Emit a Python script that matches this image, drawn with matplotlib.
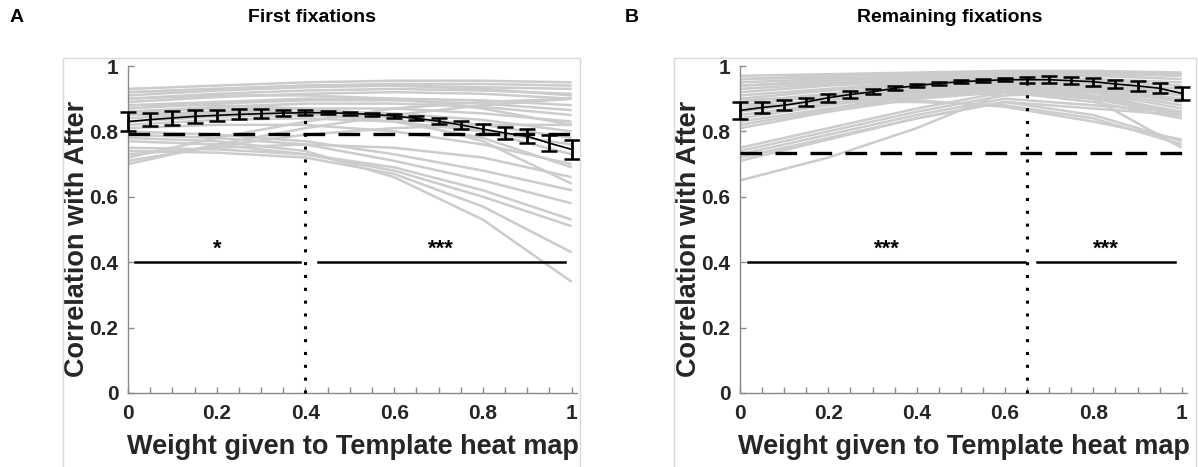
import matplotlib
matplotlib.use('Agg')
import matplotlib.pyplot as plt
from matplotlib.patches import Rectangle
from matplotlib.ticker import MultipleLocator

plt.rcParams['font.family'] = ['Liberation Sans', 'DejaVu Sans']
plt.rcParams['font.weight'] = 'bold'

# weights at which the group mean was computed
weights = [0.0, 0.05, 0.1, 0.15, 0.2, 0.25, 0.3, 0.35, 0.4, 0.45, 0.5,
           0.55, 0.6, 0.65, 0.7, 0.75, 0.8, 0.85, 0.9, 0.95, 1.0]
subj_x = [0.0, 0.2, 0.4, 0.6, 0.8, 1.0]

# ---- A: first fixations ----
first_mean = [0.830, 0.836, 0.841, 0.846, 0.849, 0.852, 0.854, 0.856, 0.857, 0.857, 0.855,
              0.852, 0.847, 0.840, 0.831, 0.820, 0.807, 0.795, 0.785, 0.764, 0.745]
first_err = [0.028, 0.021, 0.020, 0.019, 0.017, 0.015, 0.013, 0.010, 0.007, 0.005, 0.004,
             0.004, 0.005, 0.006, 0.009, 0.012, 0.015, 0.018, 0.021, 0.024, 0.028]
first_subjects = [
    [0.93, 0.94, 0.95, 0.955, 0.955, 0.95],
    [0.92, 0.93, 0.94, 0.945, 0.945, 0.94],
    [0.91, 0.925, 0.935, 0.94, 0.935, 0.93],
    [0.90, 0.915, 0.925, 0.93, 0.925, 0.915],
    [0.89, 0.905, 0.915, 0.92, 0.915, 0.90],
    [0.88, 0.89, 0.90, 0.90, 0.895, 0.88],
    [0.87, 0.885, 0.895, 0.895, 0.885, 0.865],
    [0.86, 0.875, 0.885, 0.885, 0.875, 0.85],
    [0.85, 0.86, 0.87, 0.87, 0.855, 0.83],
    [0.84, 0.855, 0.86, 0.855, 0.835, 0.80],
    [0.83, 0.845, 0.85, 0.845, 0.82, 0.78],
    [0.82, 0.835, 0.84, 0.83, 0.80, 0.76],
    [0.81, 0.82, 0.82, 0.80, 0.76, 0.70],
    [0.70, 0.76, 0.81, 0.85, 0.88, 0.90],
    [0.72, 0.78, 0.83, 0.87, 0.89, 0.90],
    [0.71, 0.755, 0.79, 0.81, 0.82, 0.82],
    [0.73, 0.75, 0.76, 0.75, 0.72, 0.66],
    [0.80, 0.79, 0.77, 0.73, 0.68, 0.62],
    [0.79, 0.78, 0.76, 0.71, 0.65, 0.58],
    [0.78, 0.77, 0.74, 0.66, 0.53, 0.34],
    [0.77, 0.76, 0.73, 0.68, 0.60, 0.51],
    [0.75, 0.745, 0.73, 0.69, 0.62, 0.53],
    [0.74, 0.735, 0.72, 0.67, 0.57, 0.43],
    [0.86, 0.87, 0.87, 0.85, 0.80, 0.73],
    [0.88, 0.88, 0.87, 0.84, 0.77, 0.64],
    [0.85, 0.86, 0.855, 0.83, 0.78, 0.69],
    [0.90, 0.91, 0.91, 0.90, 0.87, 0.82],
    [0.92, 0.93, 0.94, 0.94, 0.93, 0.91],
]
first_baseline = 0.792
first_best = 0.4
first_sig = [(0.016, 0.387, '*'), (0.428, 0.984, '***')]

# ---- B: remaining fixations ----
remain_mean = [0.864, 0.873, 0.880, 0.890, 0.903, 0.913, 0.921, 0.932, 0.940, 0.947, 0.952,
               0.955, 0.958, 0.958, 0.958, 0.955, 0.952, 0.945, 0.939, 0.932, 0.916]
remain_err = [0.026, 0.018, 0.015, 0.013, 0.012, 0.010, 0.008, 0.006, 0.005, 0.004, 0.004,
              0.004, 0.005, 0.009, 0.010, 0.011, 0.012, 0.013, 0.015, 0.016, 0.019]
remain_subjects = [
    [0.97, 0.975, 0.98, 0.985, 0.985, 0.98],
    [0.96, 0.97, 0.975, 0.98, 0.98, 0.975],
    [0.95, 0.96, 0.97, 0.975, 0.975, 0.97],
    [0.94, 0.955, 0.965, 0.97, 0.97, 0.96],
    [0.93, 0.945, 0.96, 0.965, 0.96, 0.95],
    [0.92, 0.94, 0.955, 0.96, 0.955, 0.94],
    [0.91, 0.93, 0.95, 0.955, 0.95, 0.93],
    [0.90, 0.925, 0.945, 0.95, 0.945, 0.92],
    [0.89, 0.915, 0.94, 0.95, 0.94, 0.91],
    [0.88, 0.91, 0.935, 0.945, 0.935, 0.90],
    [0.87, 0.90, 0.93, 0.94, 0.93, 0.89],
    [0.86, 0.895, 0.925, 0.94, 0.925, 0.88],
    [0.85, 0.885, 0.92, 0.935, 0.92, 0.87],
    [0.84, 0.88, 0.915, 0.93, 0.91, 0.86],
    [0.83, 0.87, 0.91, 0.93, 0.905, 0.85],
    [0.82, 0.865, 0.905, 0.925, 0.90, 0.85],
    [0.81, 0.86, 0.90, 0.92, 0.89, 0.84],
    [0.75, 0.81, 0.87, 0.92, 0.93, 0.92],
    [0.74, 0.80, 0.86, 0.91, 0.92, 0.90],
    [0.73, 0.79, 0.85, 0.90, 0.88, 0.86],
    [0.72, 0.78, 0.84, 0.89, 0.87, 0.85],
    [0.71, 0.775, 0.84, 0.89, 0.85, 0.77],
    [0.65, 0.72, 0.81, 0.92, 0.90, 0.85],
    [0.90, 0.90, 0.895, 0.875, 0.83, 0.775],
    [0.88, 0.89, 0.89, 0.88, 0.84, 0.76],
    [0.96, 0.965, 0.965, 0.95, 0.90, 0.75],
    [0.94, 0.95, 0.955, 0.95, 0.92, 0.85],
]
remain_baseline = 0.733
remain_best = 0.65
remain_sig = [(0.018, 0.645, '***'), (0.673, 0.985, '***')]

xlabel = 'Weight given to Template heat map'
ylabel = 'Correlation with After'
axis_grey = '#8a8a8a'
text_dark = '#262626'


def draw_panel(ax, mean, err, subjects, baseline, best, sig):
    """Subject curves in grey, group mean with error bars in black."""
    for s in subjects:
        ax.plot(subj_x, s, color='#cccccc', lw=1.8, zorder=1, solid_capstyle='butt')
    ax.plot([weights[0], weights[-1]], [baseline, baseline], color='k', lw=2.4,
            dashes=(6.5, 4), zorder=3)
    best_val = mean[weights.index(best)]
    ax.plot([best, best], [0, best_val], color='k', lw=2.2, dashes=(1, 3.2),
            zorder=3, clip_on=False)
    ax.errorbar(weights, mean, yerr=err, color='k', lw=1.2, elinewidth=2.0,
                capsize=5.5, capthick=1.8, zorder=4, clip_on=False)
    for x0, x1, stars in sig:
        ax.plot([x0, x1], [0.4, 0.4], color='k', lw=1.8, zorder=3)
        ax.text((x0 + x1) / 2, 0.422, stars, ha='center', va='baseline',
                fontsize=16, color='k')

    ax.set_xlim(0, 1.012)
    ax.set_ylim(0, 1)
    ax.xaxis.set_major_locator(MultipleLocator(0.2))
    ax.xaxis.set_minor_locator(MultipleLocator(0.05))
    ax.yaxis.set_major_locator(MultipleLocator(0.2))
    ax.xaxis.set_major_formatter(plt.FuncFormatter(lambda v, p: '%g' % round(v, 2)))
    ax.yaxis.set_major_formatter(plt.FuncFormatter(lambda v, p: '%g' % round(v, 2)))
    for side in ['top', 'right']:
        ax.spines[side].set_visible(False)
    for side in ['left', 'bottom']:
        ax.spines[side].set_color(axis_grey)
        ax.spines[side].set_linewidth(1.0)
    ax.tick_params(which='both', direction='in', length=4, width=1, color=axis_grey,
                   labelsize=15, labelcolor=text_dark)
    ax.tick_params(axis='x', which='major', pad=8)
    ax.tick_params(axis='y', which='major', pad=7)
    ax.set_xlabel(xlabel, fontsize=19.5, fontweight='bold', color=text_dark)
    ax.set_ylabel(ylabel, fontsize=19.5, fontweight='bold', color=text_dark)
    ax.xaxis.set_label_coords(0.5, -0.125)
    ax.yaxis.set_label_coords(-0.085, 0.47)


W, H = 1198, 467
fig = plt.figure(figsize=(W / 100, H / 100), dpi=100)

# light outer frames around each panel
for x0, x1 in [(63, 580), (674, 1196)]:
    fig.add_artist(Rectangle((x0 / W, -0.05), (x1 - x0) / W, (H - 58) / H + 0.05,
                             transform=fig.transFigure, fill=False,
                             edgecolor='#d9d9d9', lw=1.0))

ax_a = fig.add_axes([128 / W, (H - 393) / H, 449 / W, 327 / H])
ax_b = fig.add_axes([740 / W, (H - 393) / H, 447 / W, 327 / H])

draw_panel(ax_a, first_mean, first_err, first_subjects, first_baseline, first_best, first_sig)
draw_panel(ax_b, remain_mean, remain_err, remain_subjects, remain_baseline, remain_best, remain_sig)

fig.text(312 / W, 1 - 18 / H, 'First fixations', ha='center', va='center', fontsize=14, color='k')
fig.text(950 / W, 1 - 18 / H, 'Remaining fixations', ha='center', va='center', fontsize=14, color='k')
fig.text(17 / W, 1 - 18 / H, 'A', ha='center', va='center', fontsize=14, color='k')
fig.text(632 / W, 1 - 18 / H, 'B', ha='center', va='center', fontsize=14, color='k')

fig.savefig('out.png', dpi=100)
